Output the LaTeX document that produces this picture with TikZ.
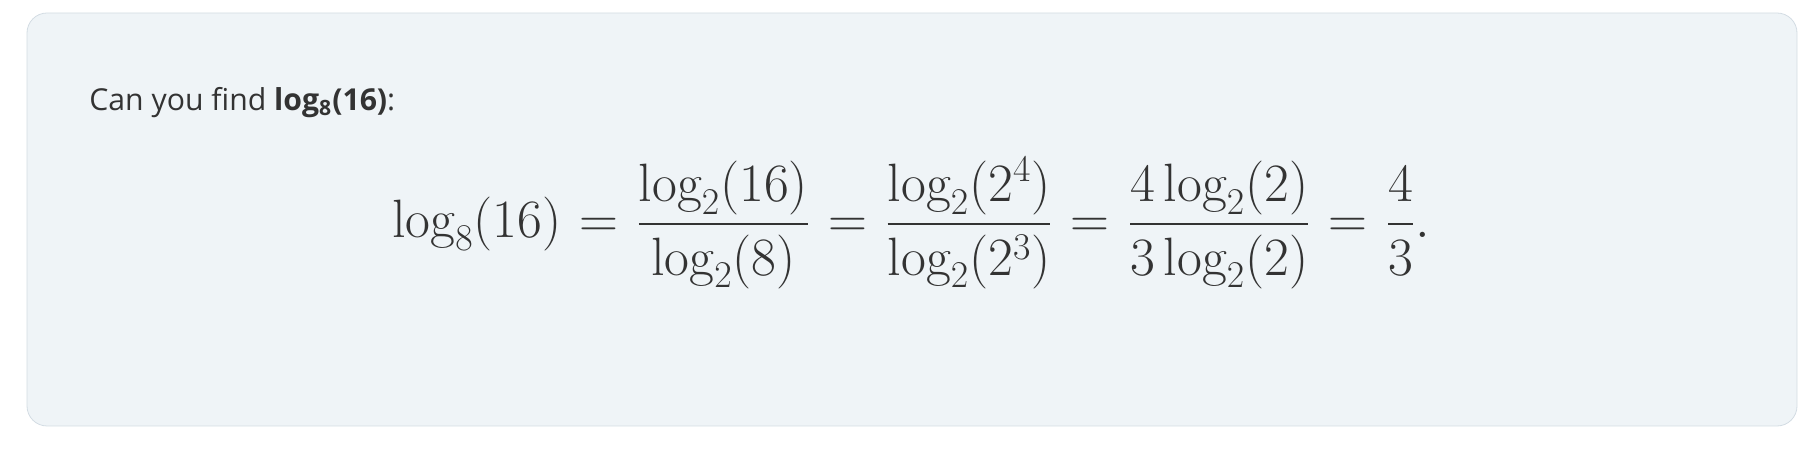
\documentclass[tikz,border=0pt]{standalone}
\usepackage{fix-cm}
\usepackage{amsmath, tikz, xcolor}
\usepackage{fontspec}
\setsansfont{Open Sans}
\usetikzlibrary{positioning}
\definecolor{boxfill}{HTML}{EFF4F7}
\definecolor{boxline}{HTML}{D3DCE3}
\definecolor{ink}{HTML}{333333}

\begin{document}
\begin{tikzpicture}[x=0.5pt, y=0.5pt]
    \useasboundingbox (0,0) rectangle (1809,-453);
    \coordinate (Q) at (89,-111);
    \coordinate (F) at (392,-238);
    \draw [boxline, fill=boxfill, rounded corners=10pt] (27,-13) rectangle (1797,-426);
    \node (question) at (Q) [anchor = base west, inner sep=0pt, text=ink, font=\fontsize{15.1}{18}\sffamily] {Can you find \textbf{log\textsubscript{8}(16)}:};
    \node (formula) at (F) [anchor = base west, inner sep=0pt, text=ink, font=\fontsize{27}{32}\selectfont] {\thickmuskip=6mu $\displaystyle \log_8(16) = \frac{\log_2(16)}{\log_2(8)} = \frac{\log_2(2^4)}{\log_2(2^3)} = \frac{4\log_2(2)}{3\log_2(2)} = \frac{4}{3}.$};
\end{tikzpicture}
\end{document}
